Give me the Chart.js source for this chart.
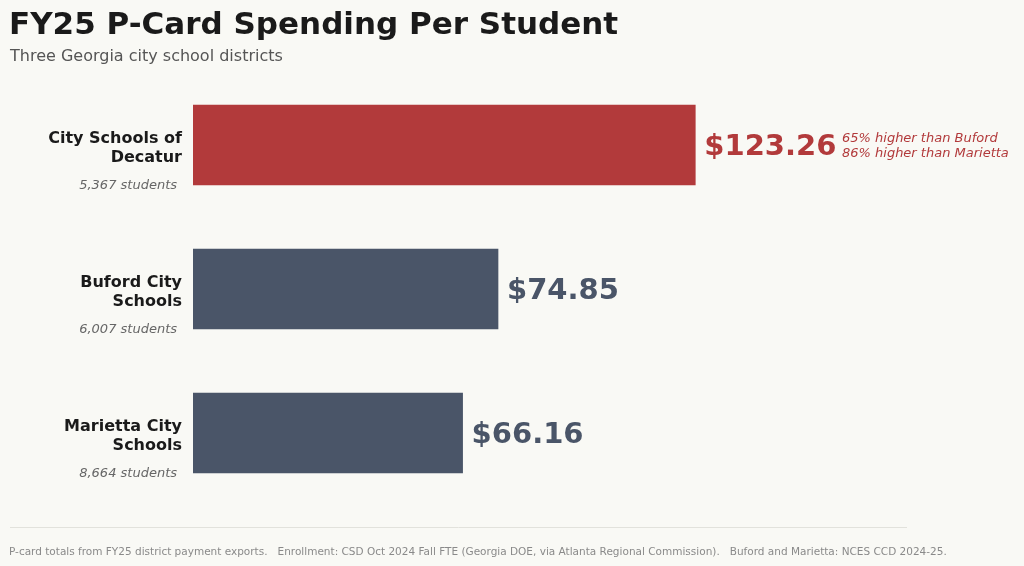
<!DOCTYPE html>
<html><head><meta charset="utf-8">
<script src="https://cdn.jsdelivr.net/npm/chart.js@4"></script>
<style>html,body{margin:0;padding:0;background:#f9f9f5}#w{width:1024px;height:566px;position:relative}</style>
</head><body><div id="w"><canvas id="c"></canvas></div>
<script>
const districts = [["City Schools of","Decatur"],["Buford City","Schools"],["Marietta City","Schools"]];
const students = ["5,367 students","6,007 students","8,664 students"];
const perStudent = [123.26, 74.85, 66.16];
const barColors = ["#b23a3b","#4a5568","#4a5568"];
const notes = ["65% higher than Buford","86% higher than Marietta"];
const F = "'DejaVu Sans', sans-serif";
const deco = {
  id:'deco',
  beforeDraw(ch){const c=ch.ctx;c.save();c.fillStyle='#f9f9f5';c.fillRect(0,0,ch.width,ch.height);c.restore();},
  afterDraw(ch){
    const c=ch.ctx, x=ch.scales.x, y=ch.scales.y;
    c.save();
    c.fillStyle='#1a1a1a';c.font='bold 31px '+F;c.textBaseline='alphabetic';c.textAlign='left';
    c.fillText('FY25 P-Card Spending Per Student',9,34);
    c.fillStyle='#555';c.font='16px '+F;c.fillText('Three Georgia city school districts',10,61);
    districts.forEach((d,i)=>{
      const cy=y.getPixelForValue(i);
      c.textAlign='right';c.fillStyle='#1a1a1a';c.font='bold 16px '+F;
      c.fillText(d[0],182,cy-2);c.fillText(d[1],182,cy+17);
      c.fillStyle='#666';c.font='italic 13px '+F;c.fillText(students[i],177,cy+44);
      const xe=x.getPixelForValue(perStudent[i]);
      c.textAlign='left';c.fillStyle=barColors[i];c.font='bold 29px '+F;
      c.fillText('$'+perStudent[i].toFixed(2),xe+9,cy+10);
      if(i===0){c.font='italic 13px '+F;c.fillText(notes[0],842,cy-3);c.fillText(notes[1],842,cy+12);}
    });
    c.strokeStyle='#e2e2dc';c.lineWidth=1;c.beginPath();c.moveTo(10,527.5);c.lineTo(907,527.5);c.stroke();
    c.fillStyle='#8a8a8a';c.font='10.5px '+F;c.textAlign='left';
    c.fillText('P-card totals from FY25 district payment exports.   Enrollment: CSD Oct 2024 Fall FTE (Georgia DOE, via Atlanta Regional Commission).   Buford and Marietta: NCES CCD 2024-25.',9,555);
    c.restore();
  }
};
new Chart(document.getElementById('c'),{
  type:'bar',
  data:{labels:districts.map(d=>d.join(' ')),datasets:[{data:perStudent,backgroundColor:barColors,barThickness:80}]},
  options:{indexAxis:'y',responsive:true,maintainAspectRatio:false,animation:false,
    layout:{padding:{left:193,top:73,right:16,bottom:61}},
    plugins:{legend:{display:false},tooltip:{enabled:false}},
    scales:{x:{display:false,min:0,max:200},y:{display:false}}},
  plugins:[deco]
});
</script></body></html>
